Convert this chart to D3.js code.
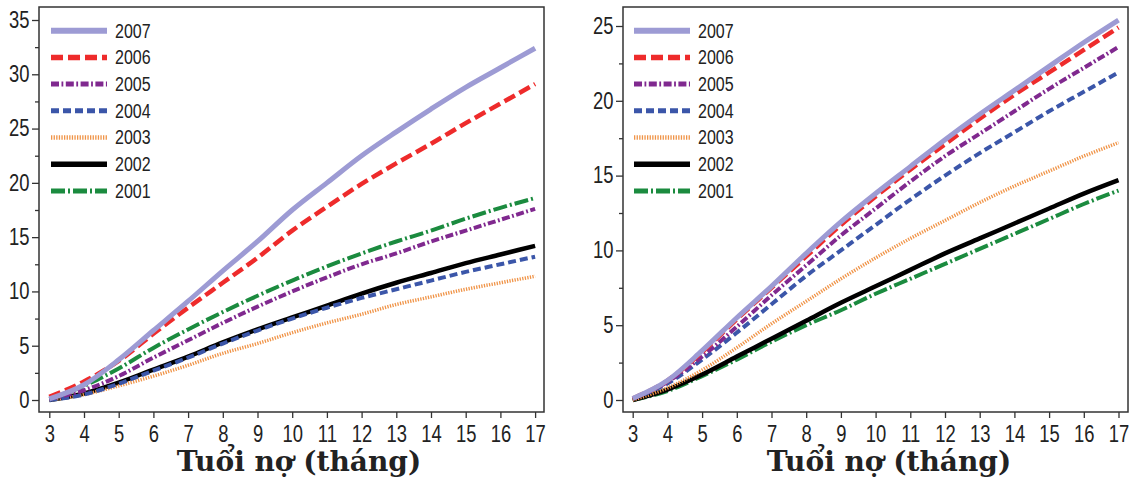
<!DOCTYPE html>
<html>
<head>
<meta charset="utf-8">
<script src="https://cdn.jsdelivr.net/npm/d3@7"></script>
<style>
  body { margin: 0; background: #fff; }
  .tick text { font-family: "Liberation Sans", Arial, sans-serif; font-size: 23px; fill: #222; }
  .legend text { font-family: "Liberation Sans", Arial, sans-serif; font-size: 20px; fill: #222; }
  .xtitle { font-family: "DejaVu Serif", serif; font-weight: bold; font-size: 28px; fill: #222; }
</style>
</head>
<body>
<div id="chart"></div>
<script>
// tuoi no (thang)
var months = [3, 4, 5, 6, 7, 8, 9, 10, 11, 12, 13, 14, 15, 16, 17];
var years = ["2007", "2006", "2005", "2004", "2003", "2002", "2001"];

// left panel values
var left2007 = [0.1, 1.4, 3.7, 6.4, 9.1, 11.9, 14.6, 17.5, 20.0, 22.5, 24.7, 26.8, 28.8, 30.6, 32.4];
var left2006 = [0.3, 1.7, 3.6, 6.1, 8.5, 10.8, 13.1, 15.6, 17.8, 19.9, 21.8, 23.6, 25.5, 27.3, 29.1];
var left2005 = [0.1, 0.9, 2.2, 3.9, 5.5, 7.1, 8.6, 10.0, 11.3, 12.5, 13.5, 14.6, 15.6, 16.6, 17.6];
var left2004 = [0.0, 0.5, 1.5, 2.7, 3.9, 5.2, 6.4, 7.5, 8.5, 9.4, 10.2, 11.0, 11.8, 12.5, 13.2];
var left2003 = [0.0, 0.5, 1.3, 2.2, 3.2, 4.3, 5.2, 6.2, 7.1, 7.9, 8.8, 9.5, 10.2, 10.8, 11.4];
var left2002 = [0.0, 0.6, 1.6, 2.8, 4.0, 5.3, 6.5, 7.6, 8.7, 9.8, 10.8, 11.7, 12.6, 13.4, 14.2];
var left2001 = [0.1, 1.3, 2.9, 4.8, 6.5, 8.1, 9.6, 11.0, 12.3, 13.5, 14.6, 15.6, 16.7, 17.7, 18.6];

// right panel values
var right2007 = [0.1, 1.3, 3.3, 5.5, 7.6, 9.8, 11.9, 13.8, 15.6, 17.4, 19.1, 20.7, 22.3, 23.9, 25.4];
var right2006 = [0.1, 1.3, 3.2, 5.4, 7.5, 9.6, 11.7, 13.6, 15.4, 17.1, 18.8, 20.4, 21.9, 23.4, 24.9];
var right2005 = [0.1, 1.2, 2.9, 4.9, 7.0, 9.0, 11.0, 12.8, 14.6, 16.3, 17.8, 19.3, 20.8, 22.2, 23.6];
var right2004 = [0.1, 1.1, 2.7, 4.5, 6.4, 8.3, 10.0, 11.7, 13.4, 15.0, 16.5, 17.9, 19.3, 20.6, 21.9];
var right2003 = [0.0, 0.8, 2.0, 3.5, 5.1, 6.6, 8.1, 9.5, 10.8, 12.0, 13.2, 14.3, 15.3, 16.3, 17.2];
var right2002 = [0.0, 0.7, 1.7, 2.9, 4.1, 5.3, 6.5, 7.6, 8.7, 9.8, 10.8, 11.8, 12.8, 13.8, 14.7];
var right2001 = [0.0, 0.6, 1.6, 2.7, 3.9, 5.0, 6.0, 7.1, 8.1, 9.1, 10.1, 11.1, 12.1, 13.1, 14.0];

var leftYTicks = [0, 5, 10, 15, 20, 25, 30, 35];
var rightYTicks = [0, 5, 10, 15, 20, 25];

var colors = ["#9d9bd4", "#ee2b2b", "#80298f", "#3b56a9", "#f09448", "#000000", "#1b8b3f"];
var widths = [5, 4.5, 4, 4, 3.5, 4.5, 4];
var dashes = [null, "12,5", "8,2.5,1.8,2.5", "8,4", "1.3,1.3", null, "14,3,2,3"];

var narrow = 0.8; // squeeze the sans labels like the narrow font in the original

var svg = d3.select("#chart").append("svg")
  .attr("width", 1132)
  .attr("height", 478);

function drawPanel(opt) {
  var x = d3.scaleLinear()
    .domain([3, 17])
    .range([opt.x3, opt.x3 + 14 * 34.7]);
  var y = d3.scaleLinear()
    .domain([0, opt.yTicks[opt.yTicks.length - 1]])
    .range([400, opt.yTop]);

  var g = svg.append("g");

  // minor y ticks (halfway)
  var minor = [];
  for (var i = 0; i < opt.yTicks.length; i++) {
    var m = opt.yTicks[i] + 2.5;
    if (y(m) > 8) minor.push(m);
  }
  g.append("g")
    .attr("class", "y axis minor")
    .attr("transform", "translate(" + opt.left + ",0)")
    .call(d3.axisLeft(y).tickValues(minor).tickSize(4).tickFormat(""))
    .call(function (a) { a.select(".domain").remove(); })
    .selectAll("line").attr("stroke", "#333").attr("stroke-width", 1.3);

  var ya = g.append("g")
    .attr("class", "y axis")
    .attr("transform", "translate(" + opt.left + ",0)")
    .call(d3.axisLeft(y).tickValues(opt.yTicks).tickSize(7).tickPadding(2))
    .call(function (a) { a.select(".domain").remove(); });
  ya.selectAll("line").attr("stroke", "#333").attr("stroke-width", 1.3);
  ya.selectAll("text")
    .attr("x", -9.5 / narrow)
    .attr("transform", "scale(" + narrow + ",1)");

  var xa = g.append("g")
    .attr("class", "x axis")
    .attr("transform", "translate(0,412)")
    .call(d3.axisBottom(x).tickValues(months).tickSize(6).tickPadding(8))
    .call(function (a) { a.select(".domain").remove(); });
  xa.selectAll("line").attr("stroke", "#333").attr("stroke-width", 1.3);
  xa.selectAll("text").attr("transform", "scale(" + narrow + ",1)");

  // frame
  g.append("rect")
    .attr("x", opt.left)
    .attr("y", 7)
    .attr("width", opt.right - opt.left)
    .attr("height", 412 - 7)
    .attr("fill", "none")
    .attr("stroke", "#333")
    .attr("stroke-width", 1.5);

  var line = d3.line()
    .x(function (d, i) { return x(months[i]); })
    .y(function (d) { return y(d); })
    .curve(d3.curveMonotoneX);

  // draw oldest first so 2007 ends on top
  for (var k = opt.series.length - 1; k >= 0; k--) {
    g.append("path")
      .datum(opt.series[k])
      .attr("fill", "none")
      .attr("stroke", colors[k])
      .attr("stroke-width", widths[k])
      .attr("stroke-dasharray", dashes[k])
      .attr("d", line);
  }

  var legend = g.append("g").attr("class", "legend");
  years.forEach(function (yr, k) {
    var ly = 30.7 + k * 26.7;
    legend.append("line")
      .attr("x1", opt.legX)
      .attr("x2", opt.legX + 56)
      .attr("y1", ly)
      .attr("y2", ly)
      .attr("stroke", colors[k])
      .attr("stroke-width", widths[k] + 1)
      .attr("stroke-dasharray", dashes[k]);
    legend.append("text")
      .attr("x", (opt.legX + 64) / narrow)
      .attr("y", ly + 7)
      .attr("transform", "scale(" + narrow + ",1)")
      .text(yr);
  });

  g.append("text")
    .attr("class", "xtitle")
    .attr("x", opt.titleX)
    .attr("y", 471)
    .style("text-anchor", "middle")
    .text("Tuổi nợ (tháng)");
}

drawPanel({
  left: 39, right: 544, x3: 49.3, yTop: 20, yTicks: leftYTicks,
  legX: 51, titleX: 299,
  series: [left2007, left2006, left2005, left2004, left2003, left2002, left2001]
});

drawPanel({
  left: 623, right: 1128, x3: 632.7, yTop: 26, yTicks: rightYTicks,
  legX: 634, titleX: 889,
  series: [right2007, right2006, right2005, right2004, right2003, right2002, right2001]
});
</script>
</body>
</html>
